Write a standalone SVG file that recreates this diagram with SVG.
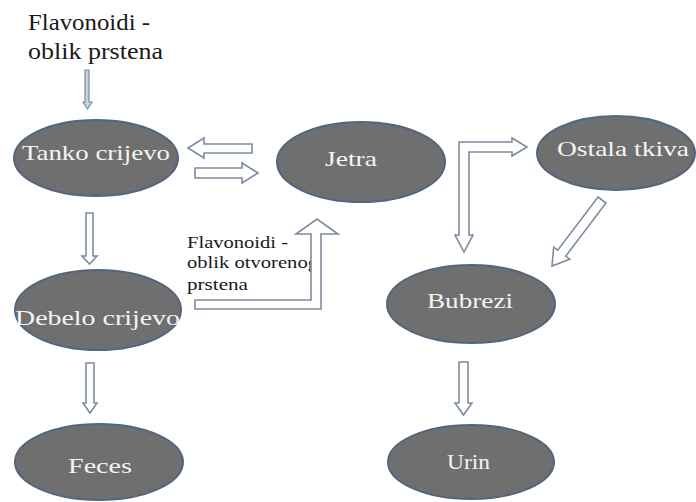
<svg xmlns="http://www.w3.org/2000/svg" width="696" height="502" viewBox="0 0 696 502">
<style>
text{font-family:'Liberation Serif','Times New Roman',serif}
.node ellipse{fill:#6f6f6f;stroke:#51667f;stroke-width:2}
.node text{fill:#f4f4f4;font-size:22px}
.lbl{fill:#1a1a1a}
.arr{fill:#ffffff;stroke:#7d8ca0;stroke-width:1.6;stroke-linejoin:miter}
.arr2{fill:#c9d2de;stroke:#7d8ca0;stroke-width:1.2}
</style>
<rect width="696" height="502" fill="#ffffff"/>
<g id="label-top">
<text class="lbl" x="28" y="30" font-size="23" textLength="122" lengthAdjust="spacingAndGlyphs">Flavonoidi -</text>
<text class="lbl" x="28" y="59" font-size="23" textLength="135" lengthAdjust="spacingAndGlyphs">oblik prstena</text>
</g>
<g id="label-open">
<text class="lbl" x="187" y="248" font-size="16" textLength="101" lengthAdjust="spacingAndGlyphs">Flavonoidi -</text>
<text class="lbl" x="187" y="268" font-size="16" textLength="131" lengthAdjust="spacingAndGlyphs">oblik otvorenog</text>
<text class="lbl" x="187" y="290" font-size="16" textLength="61" lengthAdjust="spacingAndGlyphs">prstena</text>
</g>
<g id="connectors">
<path class="arr2" d="M85,70 H89 V102 H92 L87.5,109 L83,102 H85 Z"/>
<path class="arr" d="M252,144 H204 V138 L188,148 L204,158 V153 H252 Z"/>
<path class="arr" d="M195,168 H242 V163 L258,173 L242,183 V178 H195 Z"/>
<path class="arr" d="M86,213 H93 V256 H97 L89.5,264 L82,256 H86 Z"/>
<path class="arr" d="M86,363 H94 V403 H97 L90,413 L83,403 H86 Z"/>
<path class="arr" d="M459,362 H468 V403 H472 L463.5,415 L455,403 H459 Z"/>
<path class="arr" d="M195,300 L311,300 L311,234 L296,234 L317,219 L338,234 L321,234 L321,309 L195,309 Z"/>
<path class="arr" d="M459,142 H512 V138 L527,147 L512,156 V152 H469 V235 H473 L464,252 L455,235 H459 Z"/>
<path class="arr" d="M598,197 L606,203 L565.7,256.2 L569.7,259.2 L552,266 L553.7,247.2 L557.7,250.2 Z"/>
</g>
<g id="tanko" class="node"><ellipse cx="96" cy="158" rx="82" ry="38"/><text x="22" y="160" textLength="148" lengthAdjust="spacingAndGlyphs">Tanko crijevo</text></g>
<g id="jetra" class="node"><ellipse cx="361" cy="162" rx="84" ry="40"/><text x="325" y="166" textLength="52" lengthAdjust="spacingAndGlyphs">Jetra</text></g>
<g id="ostala" class="node"><ellipse cx="616" cy="153" rx="79" ry="37"/><text x="557" y="156" textLength="132" lengthAdjust="spacingAndGlyphs">Ostala tkiva</text></g>
<g id="debelo" class="node"><ellipse cx="98" cy="310" rx="83" ry="40"/><text x="15" y="325" textLength="165" lengthAdjust="spacingAndGlyphs">Debelo crijevo</text></g>
<g id="bubrezi" class="node"><ellipse cx="471" cy="304" rx="84" ry="39"/><text x="427" y="308" textLength="86" lengthAdjust="spacingAndGlyphs">Bubrezi</text></g>
<g id="feces" class="node"><ellipse cx="99" cy="462" rx="84" ry="38"/><text x="68" y="473" textLength="64" lengthAdjust="spacingAndGlyphs">Feces</text></g>
<g id="urin" class="node"><ellipse cx="471" cy="462" rx="83" ry="37"/><text x="447" y="469" textLength="43" lengthAdjust="spacingAndGlyphs">Urin</text></g>
</svg>
